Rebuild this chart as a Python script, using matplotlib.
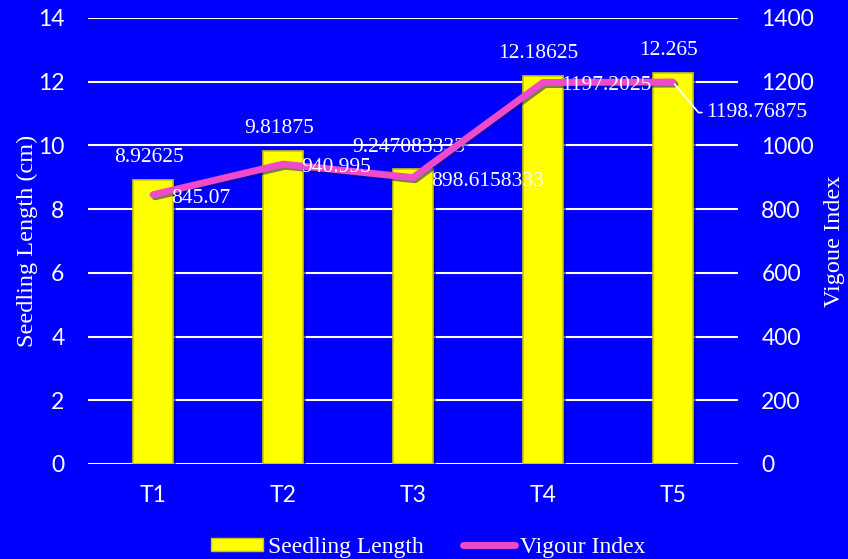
import matplotlib.pyplot as plt
import matplotlib.patheffects as pe
from matplotlib.patches import Patch
from matplotlib.lines import Line2D
import numpy as np

## Data
treatments = ["T1", "T2", "T3", "T4", "T5"]
seedling_length = [8.92625, 9.81875, 9.247083333, 12.18625, 12.265]
vigour_index = [845.07, 940.995, 898.6158333, 1197.2025, 1198.76875]

bg = "#0000FF"
serif = "Liberation Serif"
sans = "Lato"

fig = plt.figure(figsize=(8.48, 5.59), dpi=100, facecolor=bg)
ax = fig.add_axes([0.104, 0.170, 0.766, 0.798])
ax.set_facecolor(bg)
ax2 = ax.twinx()

x = np.arange(len(treatments))
shadow = [pe.SimplePatchShadow(offset=(2, -2), shadow_rgbFace="#00008A", alpha=0.6), pe.Normal()]
bars = ax.bar(x, seedling_length, width=0.31, color="#FFFF00", edgecolor="#C8C800",
              linewidth=1.2, zorder=3)
for b in bars:
    b.set_path_effects(shadow)

ax.set_xlim(-0.5, 4.5)
ax.set_ylim(0, 14)
ax.set_yticks(np.arange(0, 15, 2))
ax.grid(axis="y", color="white", linewidth=1.5, zorder=0)
ax.set_axisbelow(True)

ax2.plot(x, vigour_index, color="#EE4BCB", linewidth=5, solid_capstyle="round", zorder=4,
         path_effects=[pe.SimpleLineShadow(offset=(1.5, -1.5), shadow_color="#00008A", alpha=0.5), pe.Normal()])
ax2.set_ylim(0, 1400)
ax2.set_yticks(np.arange(0, 1401, 200))

for a in (ax, ax2):
    for s in a.spines.values():
        s.set_visible(False)
    a.tick_params(length=0, colors="white", labelsize=16.5)
    for lab in a.get_xticklabels() + a.get_yticklabels():
        lab.set_fontfamily(sans)
ax.tick_params(axis="y", pad=17)
ax2.tick_params(axis="y", pad=17)
ax.tick_params(axis="x", pad=15)
ax.set_xticks(x)
ax.set_xticklabels(treatments, fontfamily=sans, fontsize=16.5)

ax.set_ylabel("Seedling Length (cm)", color="white", fontfamily=serif, fontsize=17.5, labelpad=0)
ax2.set_ylabel("Vigoue Index", color="white", fontfamily=serif, fontsize=17.5, labelpad=7)

# bar labels
for xi, v in zip(x, seedling_length):
    ax.annotate(f"{v:.10g}", (xi, v), xytext=(-3, 16), textcoords="offset points",
                ha="center", va="center", color="white", fontfamily=serif, fontsize=15.5, zorder=6)

# line labels
for xi, v in zip(x[:4], vigour_index[:4]):
    ax2.annotate(f"{v:.10g}", (xi, v), xytext=(13, -2.5), textcoords="offset points",
                 ha="left", va="center", color="white", fontfamily=serif, fontsize=15.5, zorder=6)
ax2.annotate(f"{vigour_index[4]:.10g}", (x[4], vigour_index[4]), xytext=(24, -22),
             textcoords="offset points", ha="left", va="center", color="white",
             fontfamily=serif, fontsize=15.5, zorder=6,
             arrowprops=dict(arrowstyle="-", color="white", lw=1.2,
                             connectionstyle="angle,angleA=0,angleB=130,rad=0",
                             shrinkA=1, shrinkB=2))

# legend
handles = [Patch(facecolor="#FFFF00", edgecolor="#C8C800"),
           Line2D([0], [0], color="#EE4BCB", linewidth=5, solid_capstyle="round")]
leg = fig.legend(handles, ["Seedling Length", "Vigour Index"], loc="lower center",
                 bbox_to_anchor=(0.505, -0.036), ncol=2, frameon=False, handlelength=2.2,
                 handleheight=0.45, handletextpad=0.2, columnspacing=1.7,
                 prop={"family": serif, "size": 17})
for t in leg.get_texts():
    t.set_color("white")

fig.savefig("out.png", dpi=100, facecolor=bg)
